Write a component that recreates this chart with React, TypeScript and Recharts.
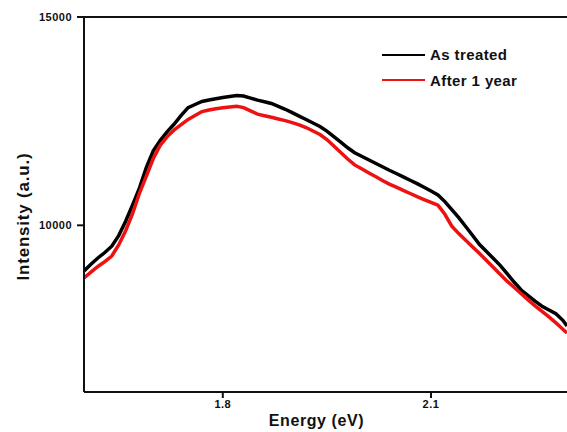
import React from 'react';
import { LineChart, Line, XAxis, YAxis, ReferenceLine, Label } from 'recharts';

const energy = [
  1.6, 1.61, 1.62, 1.63, 1.64, 1.65, 1.66, 1.67, 1.68, 1.69,
  1.7, 1.71, 1.72, 1.73, 1.74, 1.75, 1.76, 1.77, 1.78, 1.79,
  1.8, 1.81, 1.82, 1.83, 1.84, 1.85, 1.86, 1.87, 1.88, 1.89,
  1.9, 1.91, 1.92, 1.93, 1.94, 1.95, 1.96, 1.97, 1.98, 1.99,
  2.0, 2.01, 2.02, 2.03, 2.04, 2.05, 2.06, 2.07, 2.08, 2.09,
  2.1, 2.11, 2.12, 2.13, 2.14, 2.15, 2.16, 2.17, 2.18, 2.19,
  2.2, 2.21, 2.22, 2.23, 2.24, 2.25, 2.26, 2.27, 2.28, 2.29, 2.296,
];

const asTreated = [
  8904, 9067, 9216, 9348, 9499, 9754, 10097, 10490, 10898, 11395,
  11794, 12041, 12250, 12432, 12638, 12826, 12900, 12972, 13008, 13039,
  13066, 13090, 13116, 13104, 13054, 13006, 12967, 12924, 12854, 12785,
  12706, 12622, 12540, 12456, 12372, 12262, 12130, 11995, 11861, 11741,
  11657, 11573, 11489, 11407, 11323, 11244, 11162, 11081, 11002, 10913,
  10822, 10730, 10570, 10375, 10186, 9972, 9756, 9540, 9370, 9204,
  9034, 8834, 8633, 8448, 8314, 8179, 8059, 7968, 7877, 7721, 7584,
];

const afterOneYear = [
  8736, 8875, 9012, 9130, 9264, 9528, 9871, 10282, 10776, 11189,
  11609, 11926, 12130, 12290, 12418, 12542, 12634, 12730, 12768, 12799,
  12823, 12840, 12857, 12826, 12746, 12670, 12631, 12593, 12552, 12514,
  12466, 12413, 12348, 12264, 12180, 12058, 11902, 11746, 11592, 11450,
  11357, 11263, 11170, 11078, 10990, 10915, 10838, 10764, 10687, 10618,
  10550, 10483, 10265, 9982, 9802, 9641, 9480, 9322, 9154, 8988,
  8820, 8654, 8508, 8359, 8210, 8069, 7937, 7802, 7661, 7505, 7416,
];

const xTicks = [1.8, 2.1];
const yTicks = [10000, 15000];
const seriesNames = ['As treated', 'After 1 year'];
const seriesColors = ['#000000', '#ee1111'];

const data = energy.map((e, i) => ({ e, a: asTreated[i], b: afterOneYear[i] }));

const FONT = '"Liberation Sans", Arial, sans-serif';

const XTitle = (props: any) => {
  const vb = props.viewBox || {};
  return (
    <text x={vb.x + vb.width / 2 - 9} y={vb.y + 34} textAnchor="middle" fontFamily={FONT}
      fontWeight="bold" fontSize={16} letterSpacing={0.6} fill="#111">Energy (eV)</text>
  );
};

const YTitle = (props: any) => {
  const vb = props.viewBox || {};
  const cx = vb.x + 23;
  const cy = vb.y + vb.height / 2 + 12;
  return (
    <text x={cx} y={cy} transform={`rotate(-90 ${cx} ${cy})`} textAnchor="middle" dominantBaseline="central"
      fontFamily={FONT} fontWeight="bold" fontSize={17} letterSpacing={0.8} fill="#111">Intensity (a.u.)</text>
  );
};

const LegendBox = () => (
  <div style={{ position: 'absolute', left: 382, top: 42, fontFamily: FONT, fontWeight: 'bold', fontSize: 15, color: '#111' }}>
    {seriesNames.map((n, i) => (
      <div key={n} style={{ display: 'flex', alignItems: 'center', height: 25.5 }}>
        <div style={{ width: 43, height: 2, background: seriesColors[i], marginRight: 5 }} />
        <span style={{ letterSpacing: 0.4 }}>{n}</span>
      </div>
    ))}
  </div>
);

export default function App() {
  return (
    <div style={{ position: 'fixed', left: 0, top: 0, width: 567, height: 432, overflow: 'hidden', background: '#fff' }}>
      <LineChart width={567} height={432} data={data} margin={{ top: 17, right: 0, left: 0, bottom: 0 }}>
        <XAxis
          dataKey="e"
          type="number"
          domain={[1.6, 2.296]}
          allowDataOverflow
          ticks={xTicks}
          tickFormatter={(v: number) => v.toFixed(1)}
          height={40}
          stroke="#111"
          strokeWidth={2}
          tickSize={6}
          tickMargin={2}
          tick={{ fill: '#111', fontSize: 11, fontWeight: 'bold', fontFamily: FONT, letterSpacing: 0.5 }}
        >
          <Label content={XTitle} />
        </XAxis>
        <YAxis
          type="number"
          domain={[6000, 15000]}
          allowDataOverflow
          ticks={yTicks}
          width={84}
          stroke="#111"
          strokeWidth={2}
          tickSize={7}
          tickMargin={5}
          tick={{ fill: '#111', fontSize: 11, fontWeight: 'bold', fontFamily: FONT, letterSpacing: 0.5 }}
        >
          <Label content={YTitle} />
        </YAxis>
        <ReferenceLine y={15000} stroke="#111" strokeWidth={2} />
        <Line dataKey="a" name={seriesNames[0]} stroke={seriesColors[0]} strokeWidth={3.5} dot={false}
          isAnimationActive={false} type="linear" />
        <Line dataKey="b" name={seriesNames[1]} stroke={seriesColors[1]} strokeWidth={3.5} dot={false}
          isAnimationActive={false} type="linear" />
      </LineChart>
      <LegendBox />
    </div>
  );
}
